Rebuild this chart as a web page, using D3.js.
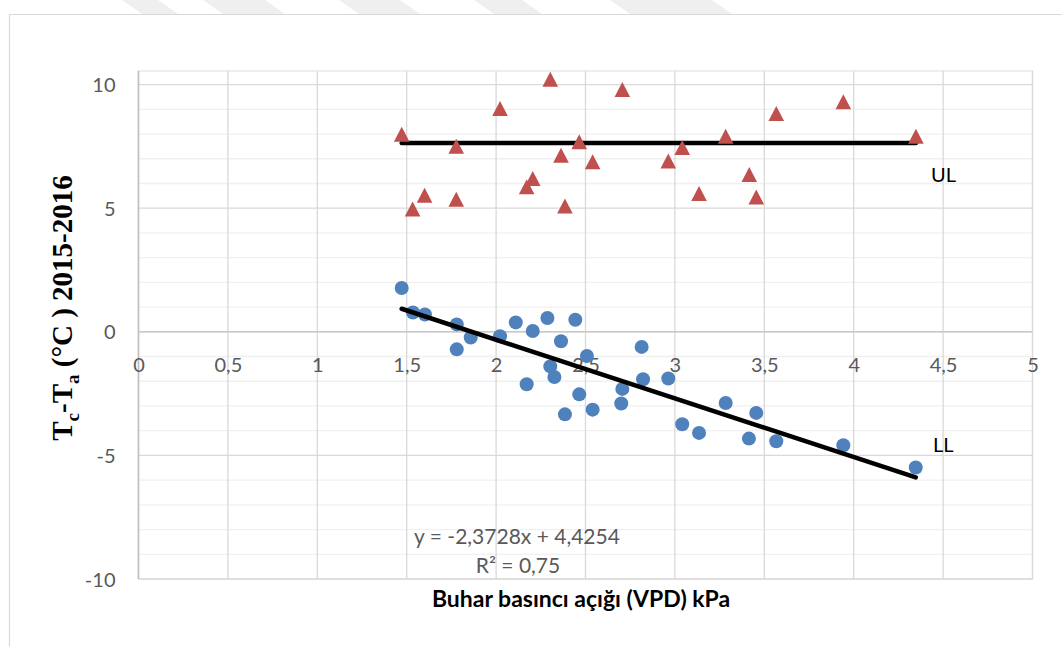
<!DOCTYPE html>
<html>
<head>
<meta charset="utf-8">
<script src="https://cdn.jsdelivr.net/npm/d3@7"></script>
<style>
  html, body { margin: 0; padding: 0; background: #ffffff; }
  svg { display: block; }
</style>
</head>
<body>
<svg id="chart" width="1062" height="646"></svg>
<script>
// ---------- DATA ----------
const xTicks = [0, 0.5, 1, 1.5, 2, 2.5, 3, 3.5, 4, 4.5, 5];
const yTicks = [-10, -5, 0, 5, 10];
const yMinorTicks = [-9, -8, -7, -6, -4, -3, -2, -1, 1, 2, 3, 4, 6, 7, 8, 9];

// Upper limit (UL) series: VPD (kPa), Tc-Ta (°C)
const ulVPD = [1.472, 1.533, 1.600, 1.777, 1.777, 2.022, 2.171, 2.205, 2.303, 2.363, 2.385, 2.465,
               2.540, 2.706, 2.963, 3.041, 3.135, 3.284, 3.416, 3.455, 3.567, 3.942, 4.348];
const ulDT  = [7.99, 4.96, 5.52, 7.50, 5.36, 9.03, 5.86, 6.20, 10.21, 7.14, 5.08, 7.68,
               6.87, 9.80, 6.91, 7.45, 5.59, 7.91, 6.36, 5.45, 8.83, 9.30, 7.91];
const ulLevel = 7.64;

// Lower limit (LL) series
const llVPD = [1.472, 1.535, 1.602, 1.780, 1.780, 1.858, 2.022, 2.110, 2.205, 2.171, 2.287, 2.303,
               2.326, 2.363, 2.385, 2.443, 2.465, 2.508, 2.540, 2.706, 2.700, 2.814, 2.822, 2.963,
               3.041, 3.135, 3.284, 3.455, 3.414, 3.567, 3.942, 4.347];
const llDT  = [1.77, 0.78, 0.70, 0.30, -0.71, -0.23, -0.18, 0.38, 0.03, -2.12, 0.56, -1.40,
               -1.83, -0.38, -3.34, 0.49, -2.53, -0.98, -3.15, -2.31, -2.90, -0.61, -1.92, -1.89,
               -3.74, -4.09, -2.88, -3.28, -4.32, -4.43, -4.59, -5.49];

// Linear trend of LL
const trendSlope = -2.3728;
const trendIntercept = 4.4254;
const equationText = "y = -2,3728x + 4,4254";
const r2Text = "R² = 0,75";

const xTitle = "Buhar basıncı açığı (VPD) kPa";

// ---------- CHART ----------
const svg = d3.select("#chart");
const W = 1062, H = 646;

const x = d3.scaleLinear().domain([0, 5]).range([138.5, 1032.5]);
const y = d3.scaleLinear().domain([-10, 10.55]).range([579, 71]);

const loc = d3.formatLocale({decimal: ",", thousands: ".", grouping: [3], currency: ["", ""], minus: "-"});
const fmt = loc.format(".1~f");

// faint watermark fragments at the very top
const wm = svg.append("g").attr("fill", "#efefef");
[[122, 178], [203, 285], [339, 420], [474, 542], [610, 732]].forEach((r) => {
  const a = r[0], b = r[1];
  wm.append("path").attr("d", `M${a},0 L${b - 20},0 L${b},14 L${a + 20},14 Z`);
});

// chart area border
svg.append("path")
  .attr("d", `M9.5,${H} L9.5,14.5 L${W},14.5`)
  .attr("fill", "none").attr("stroke", "#d9d9d9").attr("stroke-width", 1.2);

// plot area border
svg.append("rect")
  .attr("x", x(0)).attr("y", y(10.55))
  .attr("width", x(5) - x(0)).attr("height", y(-10) - y(10.55))
  .attr("fill", "none").attr("stroke", "#e3e3e3").attr("stroke-width", 1.2);

// minor horizontal gridlines
svg.append("g").selectAll("line").data(yMinorTicks).join("line")
  .attr("x1", x(0)).attr("x2", x(5))
  .attr("y1", d => y(d)).attr("y2", d => y(d))
  .attr("stroke", "#f0f0f0").attr("stroke-width", 1.3);

// major horizontal gridlines
svg.append("g").selectAll("line").data(yTicks).join("line")
  .attr("x1", x(0)).attr("x2", x(5))
  .attr("y1", d => y(d)).attr("y2", d => y(d))
  .attr("stroke", "#d9d9d9").attr("stroke-width", 1.3);

// vertical gridlines
svg.append("g").selectAll("line").data(xTicks).join("line")
  .attr("x1", d => x(d)).attr("x2", d => x(d))
  .attr("y1", y(10.55)).attr("y2", y(-10))
  .attr("stroke", "#d9d9d9").attr("stroke-width", 1.3);

// vertical axis line (x=0)
svg.append("line")
  .attr("x1", x(0)).attr("x2", x(0)).attr("y1", y(10.55)).attr("y2", y(-10))
  .attr("stroke", "#bfbfbf").attr("stroke-width", 1.5);
// horizontal axis line (y=0)
svg.append("line")
  .attr("x1", x(0)).attr("x2", x(5)).attr("y1", y(0)).attr("y2", y(0))
  .attr("stroke", "#c9c9c9").attr("stroke-width", 1.5);

// Y axis labels
const yAxis = d3.axisLeft(y).tickValues(yTicks).tickSize(0).tickPadding(23).tickFormat(fmt);
const gy = svg.append("g").attr("transform", `translate(${x(0)},0)`).call(yAxis);
gy.select(".domain").remove();
gy.selectAll("text")
  .attr("font-family", "Lato, 'Open Sans', sans-serif").attr("font-size", 20)
  .attr("fill", "#595959").attr("dy", "0.35em");

// X axis labels (axis crosses at y=0)
const xAxis = d3.axisBottom(x).tickValues(xTicks).tickSize(0).tickFormat(fmt);
const gx = svg.append("g").attr("transform", `translate(0,${y(0)})`).call(xAxis);
gx.select(".domain").remove();
gx.selectAll("text")
  .attr("font-family", "Lato, 'Open Sans', sans-serif").attr("font-size", 20)
  .attr("fill", "#595959").attr("y", 40).attr("dy", "0");

// UL line
const ulX = d3.extent(ulVPD);
svg.append("line")
  .attr("x1", x(ulX[0])).attr("x2", x(ulX[1]))
  .attr("y1", y(ulLevel)).attr("y2", y(ulLevel))
  .attr("stroke", "#000").attr("stroke-width", 4.5).attr("stroke-linecap", "round");

// UL triangles
const tri = "M0,-7.6 L7.8,7.4 L-7.8,7.4 Z";
svg.append("g").selectAll("path").data(ulVPD.map((v, i) => [v, ulDT[i]])).join("path")
  .attr("d", tri)
  .attr("transform", d => `translate(${x(d[0])},${y(d[1])})`)
  .attr("fill", "#C0504D");

// LL circles
svg.append("g").selectAll("circle").data(llVPD.map((v, i) => [v, llDT[i]])).join("circle")
  .attr("cx", d => x(d[0])).attr("cy", d => y(d[1])).attr("r", 7)
  .attr("fill", "#4F81BD");

// Trendline
const llX = d3.extent(llVPD);
svg.append("line")
  .attr("x1", x(llX[0])).attr("y1", y(trendSlope * llX[0] + trendIntercept))
  .attr("x2", x(llX[1])).attr("y2", y(trendSlope * llX[1] + trendIntercept))
  .attr("stroke", "#000").attr("stroke-width", 4.5).attr("stroke-linecap", "round");

// UL / LL labels
svg.append("text").attr("x", 931).attr("y", 181.5).text("UL")
  .attr("font-family", "Lato, sans-serif").attr("font-size", 20).attr("fill", "#000");
svg.append("text").attr("x", 933).attr("y", 452).text("LL")
  .attr("font-family", "Lato, sans-serif").attr("font-size", 20).attr("fill", "#000");

// Equation
svg.append("text").attr("x", 517).attr("y", 544).attr("text-anchor", "middle").text(equationText)
  .attr("font-family", "Lato, sans-serif").attr("font-size", 21).attr("fill", "#595959");
svg.append("text").attr("x", 518).attr("y", 573).attr("text-anchor", "middle").text(r2Text)
  .attr("font-family", "Lato, sans-serif").attr("font-size", 21).attr("fill", "#595959");

// X title
svg.append("text").attr("x", 581).attr("y", 607).attr("text-anchor", "middle").text(xTitle)
  .attr("font-family", "Lato, sans-serif").attr("font-size", 23).attr("font-weight", "bold").attr("fill", "#000");

// Y title (rotated, with subscripts)
const yt = svg.append("text")
  .attr("transform", "translate(72,308) rotate(-90)")
  .attr("text-anchor", "middle")
  .attr("font-family", "'Liberation Serif', 'Times New Roman', serif")
  .attr("font-size", 29).attr("font-weight", "bold").attr("fill", "#000");
yt.append("tspan").text("T");
yt.append("tspan").text("c").attr("font-size", 19).attr("dy", 7);
yt.append("tspan").text("-T").attr("dy", -7);
yt.append("tspan").text("a").attr("font-size", 19).attr("dy", 7);
yt.append("tspan").text(" (°C ) 2015-2016").attr("dy", -7);
</script>
</body>
</html>
